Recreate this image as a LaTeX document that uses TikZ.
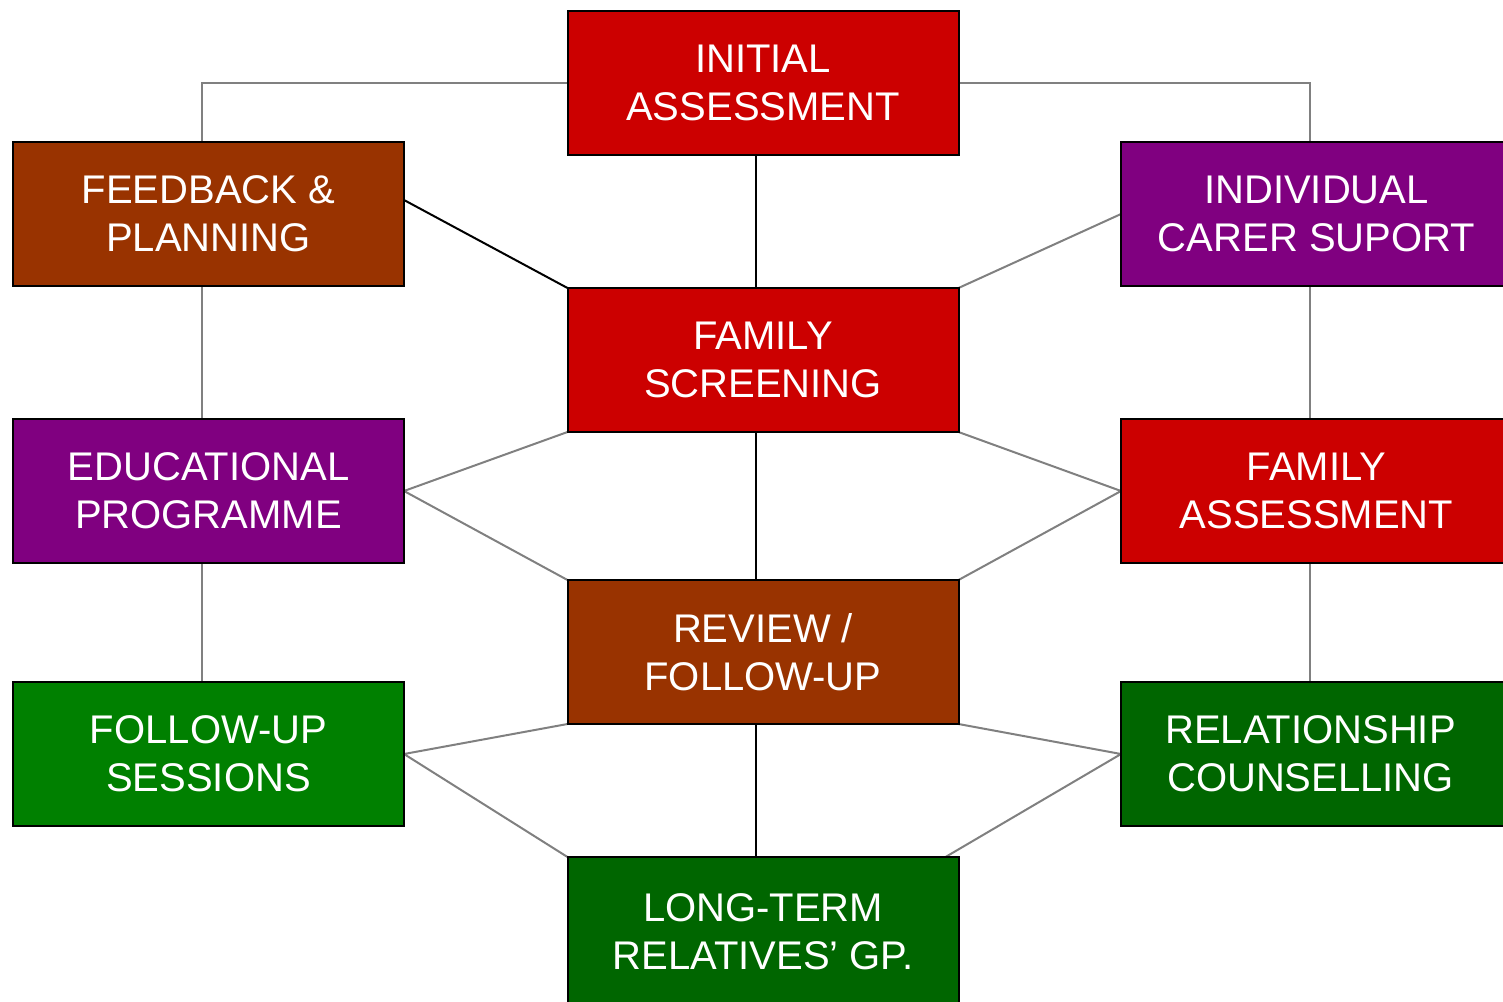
\documentclass[tikz,border=0pt]{standalone}
\usepackage{fontspec}
\setmainfont{Liberation Sans}
\usetikzlibrary{backgrounds}
\definecolor{boxred}{HTML}{CC0000}
\definecolor{boxbrown}{HTML}{993300}
\definecolor{boxpurple}{HTML}{800080}
\definecolor{boxgreen}{HTML}{008000}
\definecolor{boxdkgreen}{HTML}{006600}
\definecolor{linkgray}{HTML}{808080}

\begin{document}
\begin{tikzpicture}[x=1pt,y=-1pt,
  stage/.style={draw=black, line width=2pt, rectangle,
    minimum width=391pt, minimum height=144pt,
    inner sep=0pt, outer sep=0pt, text=white, align=center,
    font=\fontsize{40}{48}\selectfont},
  greylink/.style={draw=linkgray, line width=2pt, line join=miter},
  blacklink/.style={draw=black, line width=2pt}]

\clip (0,0) rectangle (1503,1001);

% centre column
\node[stage, fill=boxred]     (ia) at (763,82.5) {INITIAL\\ASSESSMENT};
\node[stage, fill=boxred]     (fs) at (763,360)  {FAMILY\\SCREENING};
\node[stage, fill=boxbrown]   (rv) at (763,652)  {REVIEW /\\FOLLOW-UP};
\node[stage, fill=boxdkgreen, minimum height=150pt] (lt) at (763,932)
  {LONG-TERM\\RELATIVES’ GP.};

% left column
\node[stage, fill=boxbrown]   (fb) at (208.5,214) {FEEDBACK \&\\PLANNING};
\node[stage, fill=boxpurple]  (ep) at (208.5,491) {EDUCATIONAL\\PROGRAMME};
\node[stage, fill=boxgreen]   (fu) at (208.5,754) {FOLLOW-UP\\SESSIONS};

% right column
\node[stage, fill=boxpurple]   (ic) at (1316.5,214) {INDIVIDUAL\\CARER SUPORT};
\node[stage, fill=boxred]      (fa) at (1316.5,491) {FAMILY\\ASSESSMENT};
\node[stage, fill=boxdkgreen]  (rc) at (1316.5,754)
  {RELATIONSHIP\hspace*{12pt}\\COUNSELLING\hspace*{12pt}};

\begin{pgfonlayer}{background}
  % top branches
  \draw[greylink] (ia.west) -| ([xshift=-6.5pt]fb.north);
  \draw[greylink] (ia.east) -| ([xshift=-6.5pt]ic.north);
  \draw[blacklink] ([yshift=14pt]fb.east) -- (fs.north west);
  \draw[greylink] (ic.west) -- (fs.north east);

  % centre spine
  \draw[blacklink] ([xshift=-7pt]ia.south) -- ([xshift=-7pt]fs.north);
  \draw[blacklink] ([xshift=-7pt]fs.south) -- ([xshift=-7pt]rv.north);
  \draw[blacklink] ([xshift=-7pt]rv.south) -- ([xshift=-7pt]lt.north);

  % side columns
  \draw[greylink] ([xshift=-6.5pt]fb.south) -- ([xshift=-6.5pt]ep.north);
  \draw[greylink] ([xshift=-6.5pt]ep.south) -- ([xshift=-6.5pt]fu.north);
  \draw[greylink] ([xshift=-6.5pt]ic.south) -- ([xshift=-6.5pt]fa.north);
  \draw[greylink] ([xshift=-6.5pt]fa.south) -- ([xshift=-6.5pt]rc.north);

  % cross links
  \draw[greylink] (fs.south west) -- (ep.east) -- (rv.north west);
  \draw[greylink] (fs.south east) -- (fa.west) -- (rv.north east);
  \draw[greylink] (rv.south west) -- (fu.east) -- (lt.north west);
  \draw[greylink] (rv.south east) -- (rc.west) -- ([xshift=-13pt]lt.north east);
\end{pgfonlayer}
\end{tikzpicture}
\end{document}
